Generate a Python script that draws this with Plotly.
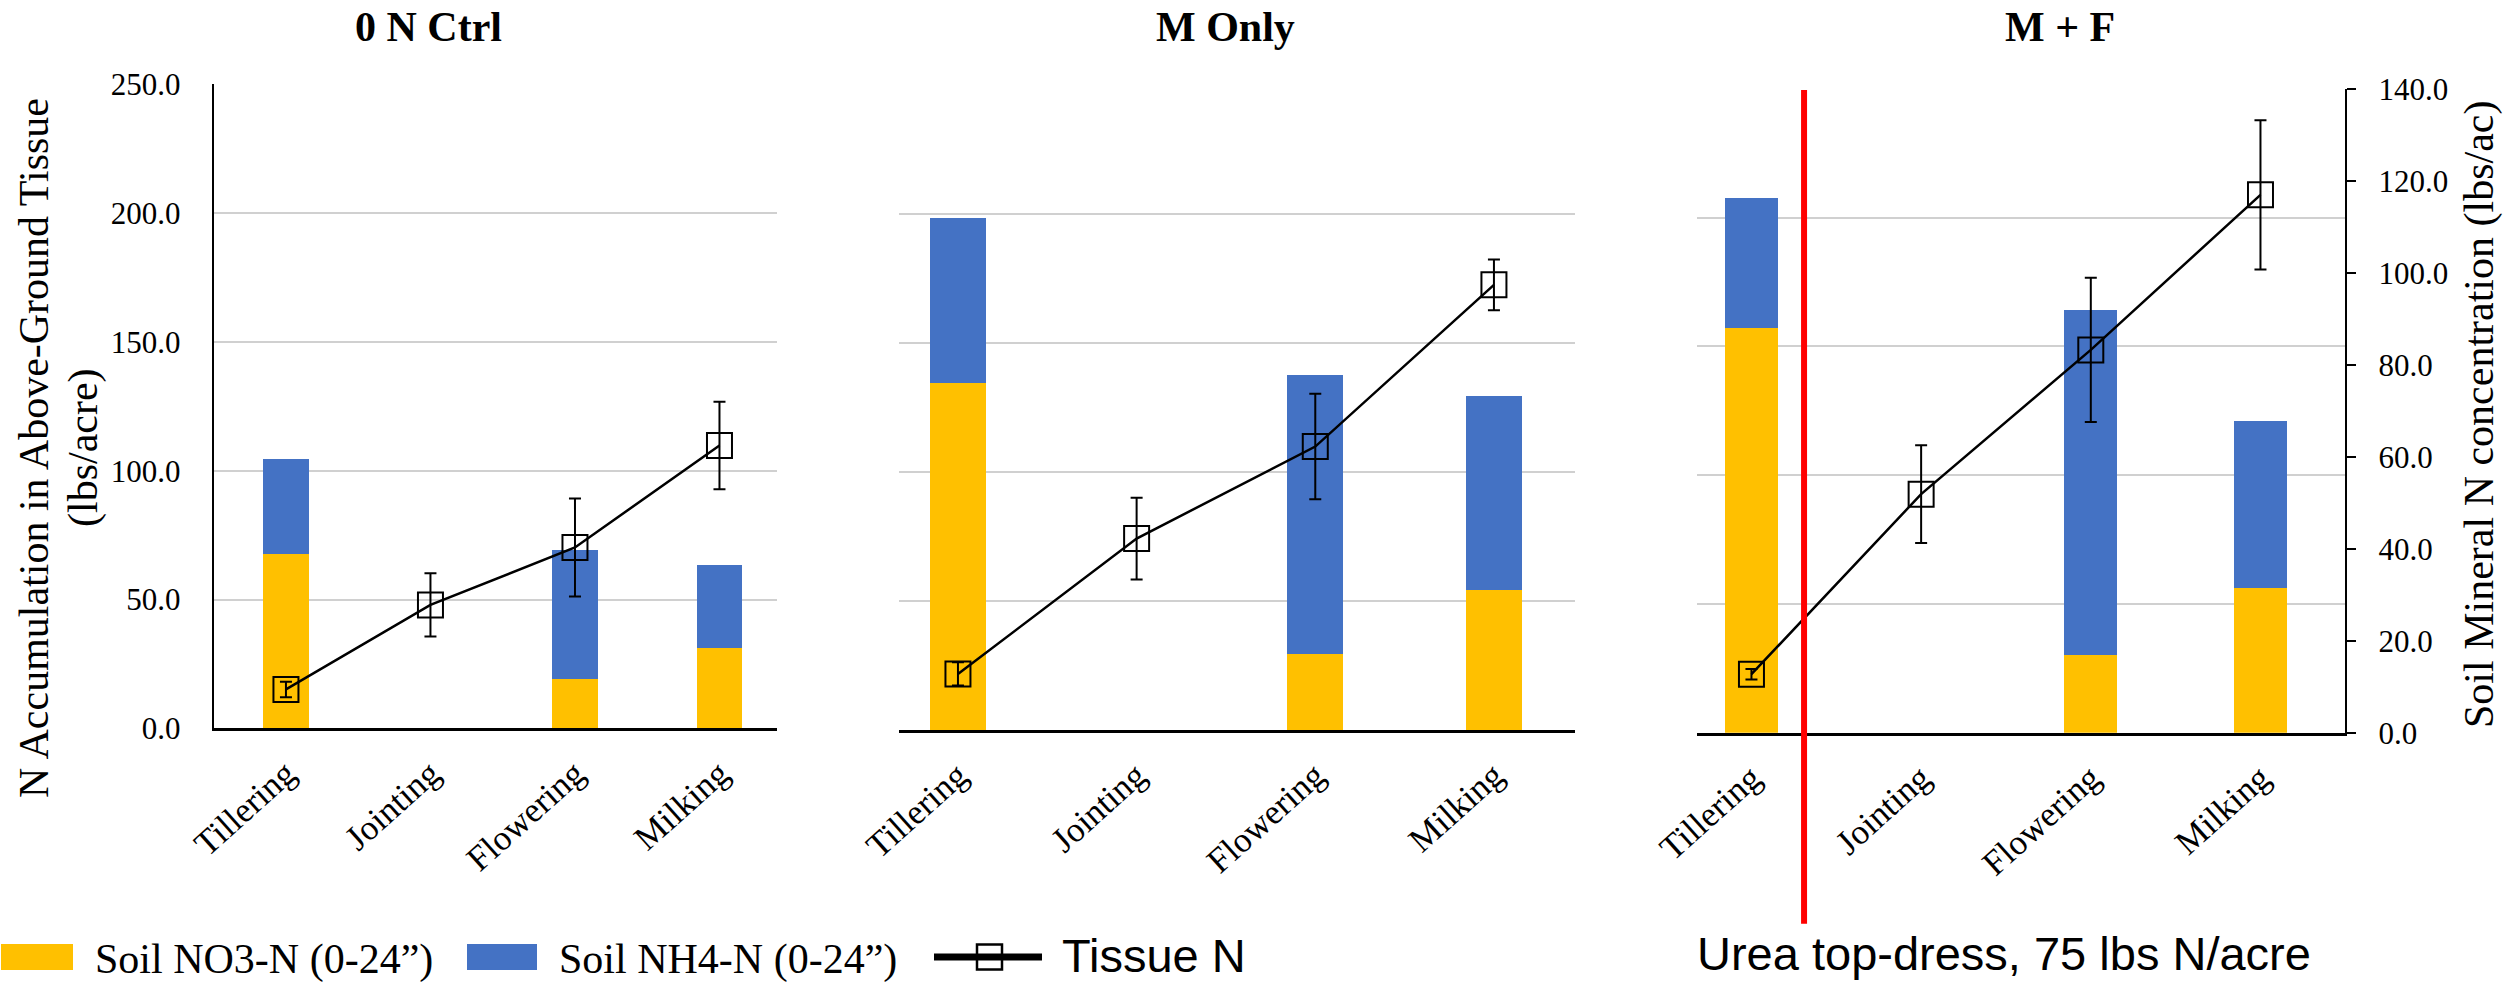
import plotly.graph_objects as go

# ---------------- data ----------------
stages = ["Tillering", "Jointing", "Flowering", "Milking"]
panel_titles = ["0 N Ctrl", "M Only", "M + F"]

# Soil mineral N (lbs/ac, right axis scale 0-140)
no3_ctrl = [37.8, None, 10.8, 17.4]
nh4_ctrl = [20.8, None, 28.0, 18.1]
no3_m = [75.2, None, 16.6, 30.4]
nh4_m = [35.9, None, 60.4, 42.0]
no3_mf = [87.9, None, 16.8, 31.5]
nh4_mf = [28.4, None, 75.0, 36.2]

# Tissue N accumulation (lbs/acre, left axis scale 0-250) and error
tissue_ctrl = [15.1, 47.9, 70.2, 109.8]
tissue_ctrl_err = [3.0, 12.3, 19.0, 17.0]
tissue_m = [21.8, 74.2, 109.8, 172.4]
tissue_m_err = [4.5, 15.8, 20.4, 9.8]
tissue_mf = [22.7, 92.6, 148.6, 208.8]
tissue_mf_err = [2.0, 19.0, 28.0, 29.0]

topdress_x = 0.31  # position of the urea top-dress marker (category units)

no3_all = [no3_ctrl, no3_m, no3_mf]
nh4_all = [nh4_ctrl, nh4_m, nh4_mf]
tissue_all = [tissue_ctrl, tissue_m, tissue_mf]
tissue_err_all = [tissue_ctrl_err, tissue_m_err, tissue_mf_err]

# ---------------- layout geometry ----------------
W, H = 2509, 983


def px(x):
    return x / W


def py(y):
    return 1 - y / H


panel_x = [(213.7, 776.7), (899.0, 1574.7), (1697.0, 2345.3)]
panel_y = [(84.3, 728.3), (84.3, 730.3), (88.7, 732.7)]
x_ranges = [[-0.5, 3.396], [-0.33, 3.452], [-0.321, 3.5]]
title_x = [428, 1225, 2060]

YELLOW = "#FFC000"
BLUE = "#4472C4"
SERIF = "Liberation Serif"
SANS = "Liberation Sans"

fig = go.Figure()

for i in range(3):
    n = i + 1
    xa = "x" if n == 1 else f"x{n}"
    ya_bar = "y" if n == 1 else f"y{n}"
    ya_tis = f"y{n + 3}"
    fig.add_trace(go.Bar(x=stages, y=no3_all[i], xaxis=xa, yaxis=ya_bar,
                         marker=dict(color=YELLOW, line=dict(width=0)),
                         width=0.314, name="Soil NO3-N (0-24\u201d)"))
    fig.add_trace(go.Bar(x=stages, y=nh4_all[i], xaxis=xa, yaxis=ya_bar,
                         marker=dict(color=BLUE, line=dict(width=0)),
                         width=0.314, name="Soil NH4-N (0-24\u201d)"))
    fig.add_trace(go.Scatter(x=stages, y=tissue_all[i], xaxis=xa, yaxis=ya_tis,
                             mode="lines+markers",
                             line=dict(color="black", width=2.5),
                             marker=dict(symbol="square-open", size=25, color="black",
                                         line=dict(width=2, color="black")),
                             error_y=dict(type="data", array=tissue_err_all[i], visible=True,
                                          color="black", thickness=2, width=6),
                             name="Tissue N"))

layout = dict(
    width=W, height=H,
    margin=dict(l=0, r=0, t=0, b=0, pad=0, autoexpand=False),
    paper_bgcolor="white", plot_bgcolor="white",
    showlegend=False, barmode="stack",
    font=dict(family=SERIF, color="black"),
)

for i in range(3):
    n = i + 1
    xkey = "xaxis" if n == 1 else f"xaxis{n}"
    ybkey = "yaxis" if n == 1 else f"yaxis{n}"
    ytkey = f"yaxis{n + 3}"
    yb_id = "y" if n == 1 else f"y{n}"
    x_id = "x" if n == 1 else f"x{n}"
    layout[xkey] = dict(
        domain=[px(panel_x[i][0]), px(panel_x[i][1])], anchor=yb_id,
        type="category", categoryorder="array", categoryarray=stages,
        range=x_ranges[i], showline=True, linecolor="black", linewidth=2.5,
        ticks="", tickangle=-42, tickfont=dict(family=SERIF, size=35, color="black"),
        showgrid=False, zeroline=False, ticklabelstandoff=8, automargin=False,
    )
    bar_axis = dict(
        domain=[py(panel_y[i][1]), py(panel_y[i][0])], anchor=x_id,
        range=[0, 140], showgrid=False, zeroline=False, automargin=False,
    )
    if n == 3:
        bar_axis.update(side="right", showline=True, linecolor="black", linewidth=2,
                        ticks="outside", ticklen=9, tickwidth=2, tickcolor="black",
                        tick0=0, dtick=20, tickformat=".1f",
                        tickfont=dict(family=SERIF, size=31, color="black"),
                        ticklabelstandoff=16)
    else:
        bar_axis.update(visible=False)
    layout[ybkey] = bar_axis
    layout[ytkey] = dict(
        overlaying=yb_id, anchor=x_id, side="left", range=[0, 250],
        tick0=0, dtick=50, showgrid=True, gridcolor="#D0D0D0", gridwidth=2,
        zeroline=False, showticklabels=(n == 1), showline=(n == 1),
        linecolor="black", linewidth=2, tickformat=".1f", ticks="",
        tickfont=dict(family=SERIF, size=31, color="black"),
        ticklabelstandoff=25, automargin=False,
    )

fig.update_layout(**layout)

annotations = []
for i in range(3):
    annotations.append(dict(x=px(title_x[i]), y=py(27), xref="paper", yref="paper",
                            text=f"<b>{panel_titles[i]}</b>", showarrow=False,
                            xanchor="center", yanchor="middle",
                            font=dict(family=SERIF, size=42, color="black")))
# axis titles
annotations.append(dict(x=px(34), y=py(448), xref="paper", yref="paper",
                        text="N Accumulation in Above-Ground Tissue", textangle=-90,
                        showarrow=False, xanchor="center", yanchor="middle",
                        font=dict(family=SERIF, size=42, color="black")))
annotations.append(dict(x=px(83), y=py(448), xref="paper", yref="paper",
                        text="(lbs/acre)", textangle=-90,
                        showarrow=False, xanchor="center", yanchor="middle",
                        font=dict(family=SERIF, size=42, color="black")))
annotations.append(dict(x=px(2479), y=py(415), xref="paper", yref="paper",
                        text="Soil Mineral N concentration (lbs/ac)", textangle=-90,
                        showarrow=False, xanchor="center", yanchor="middle",
                        font=dict(family=SERIF, size=42, color="black")))
# top-dress note
annotations.append(dict(x=px(2003.5), y=py(953), xref="paper", yref="paper",
                        text="Urea top-dress, 75 lbs N/acre", showarrow=False,
                        xanchor="center", yanchor="middle",
                        font=dict(family=SANS, size=47, color="black")))
# legend texts
annotations.append(dict(x=px(93), y=py(959), xref="paper", yref="paper",
                        text="Soil NO3-N (0-24\u201d)", showarrow=False,
                        xanchor="left", yanchor="middle",
                        font=dict(family=SERIF, size=42, color="black")))
annotations.append(dict(x=px(557), y=py(959), xref="paper", yref="paper",
                        text="Soil NH4-N (0-24\u201d)", showarrow=False,
                        xanchor="left", yanchor="middle",
                        font=dict(family=SERIF, size=42, color="black")))
annotations.append(dict(x=px(1060), y=py(955), xref="paper", yref="paper",
                        text="Tissue N", showarrow=False,
                        xanchor="left", yanchor="middle",
                        font=dict(family=SANS, size=47, color="black")))

shapes = [
    dict(type="line", xref="x3", yref="paper", x0=topdress_x, x1=topdress_x,
         y0=py(923.7), y1=py(90), line=dict(color="#FF0000", width=6), layer="above"),
    # legend swatches
    dict(type="rect", xref="paper", yref="paper", x0=px(1), x1=px(73), y0=py(970), y1=py(944),
         fillcolor=YELLOW, line=dict(width=0)),
    dict(type="rect", xref="paper", yref="paper", x0=px(467), x1=px(537), y0=py(970), y1=py(944),
         fillcolor=BLUE, line=dict(width=0)),
    dict(type="line", xref="paper", yref="paper", x0=px(934), x1=px(1042), y0=py(957), y1=py(957),
         line=dict(color="black", width=7)),
    dict(type="rect", xref="paper", yref="paper", x0=px(977), x1=px(1002), y0=py(969.5), y1=py(944.5),
         fillcolor="rgba(0,0,0,0)", line=dict(color="black", width=2.5)),
]

fig.update_layout(annotations=annotations, shapes=shapes)

fig.write_html("out.html")
